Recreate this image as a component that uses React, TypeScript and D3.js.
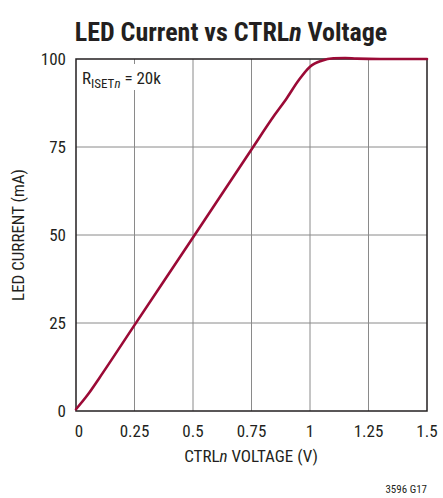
import React from "react";
import * as d3 from "d3";

const xTicks = [0, 0.25, 0.5, 0.75, 1, 1.25, 1.5];
const xTickLabels = ["0", "0.25", "0.5", "0.75", "1", "1.25", "1.5"];
const yTicks = [0, 25, 50, 75, 100];
const yTickLabels = ["0", "25", "50", "75", "100"];
const ctrlVoltage = [0, 0.05, 0.1, 0.25, 0.5, 0.75, 0.85, 0.9, 0.95, 1.0, 1.05, 1.1, 1.15, 1.2, 1.3, 1.5];
const ledCurrent = [0.5, 4.6, 9.4, 24.4, 49.3, 74.3, 84.2, 88.8, 93.8, 97.8, 99.5, 100.2, 100.3, 100.1, 100, 100];

const W = 443, H = 498;
const M = { left: 76, right: 427, top: 59, bottom: 411 };
const FONT = "'Liberation Sans Narrow', 'Roboto Condensed', 'Liberation Sans', Arial, sans-serif";

export default function App() {
  const x = d3.scaleLinear().domain([0, 1.5]).range([M.left, M.right]);
  const y = d3.scaleLinear().domain([0, 100]).range([M.bottom, M.top]);
  const line = d3.line<number>()
    .x((_, i) => x(ctrlVoltage[i]))
    .y((d) => y(d))
    .curve(d3.curveMonotoneX);
  return (
    <svg width={W} height={H} style={{ position: "absolute", left: 0, top: 0, background: "#fff" }} fontFamily={FONT}>
      <text x={231} y={41} textAnchor="middle" fontSize={26} fontWeight="bold" fill="#231f20">
        LED Current vs CTRL<tspan fontStyle="italic">n</tspan> Voltage
      </text>
      {xTicks.slice(1, -1).map((t) => (
        <line key={"gx" + t} x1={x(t)} x2={x(t)} y1={M.top} y2={M.bottom} stroke="#8a8a8a" strokeWidth={1} />
      ))}
      {yTicks.slice(1, -1).map((t) => (
        <line key={"gy" + t} x1={M.left} x2={M.right} y1={y(t)} y2={y(t)} stroke="#8a8a8a" strokeWidth={1} />
      ))}
      <rect x={M.left} y={M.top} width={M.right - M.left} height={M.bottom - M.top} fill="none" stroke="#231f20" strokeWidth={1.5} />
      <rect x={M.left + 3} y={M.top + 5} width={100} height={26} fill="#fff" />
      <path d={line(ledCurrent) || ""} fill="none" stroke="#9b0a36" strokeWidth={2.6} strokeLinejoin="round" strokeLinecap="round" />
      <text x={82} y={84} fontSize={17} fill="#231f20">
        R<tspan fontSize={13} dy={4}>ISET</tspan><tspan fontSize={13} fontStyle="italic">n</tspan><tspan dy={-4}> = 20k</tspan>
      </text>
      {yTicks.map((t, i) => (
        <text key={"yl" + t} x={66} y={y(t) + 6} textAnchor="end" fontSize={17} fill="#231f20">{yTickLabels[i]}</text>
      ))}
      {xTicks.map((t, i) => (
        <text key={"xl" + t} x={x(t) + (i === 0 ? 3 : 0)} y={437} textAnchor="middle" fontSize={17} fill="#231f20">{xTickLabels[i]}</text>
      ))}
      <text x={251} y={462} textAnchor="middle" fontSize={17} fill="#231f20">
        CTRL<tspan fontStyle="italic">n</tspan> VOLTAGE (V)
      </text>
      <text transform={`translate(24,${(M.top + M.bottom) / 2}) rotate(-90)`} textAnchor="middle" fontSize={17} fill="#231f20">
        LED CURRENT (mA)
      </text>
      <text x={427} y={493} textAnchor="end" fontSize={11} fill="#231f20">3596 G17</text>
    </svg>
  );
}
